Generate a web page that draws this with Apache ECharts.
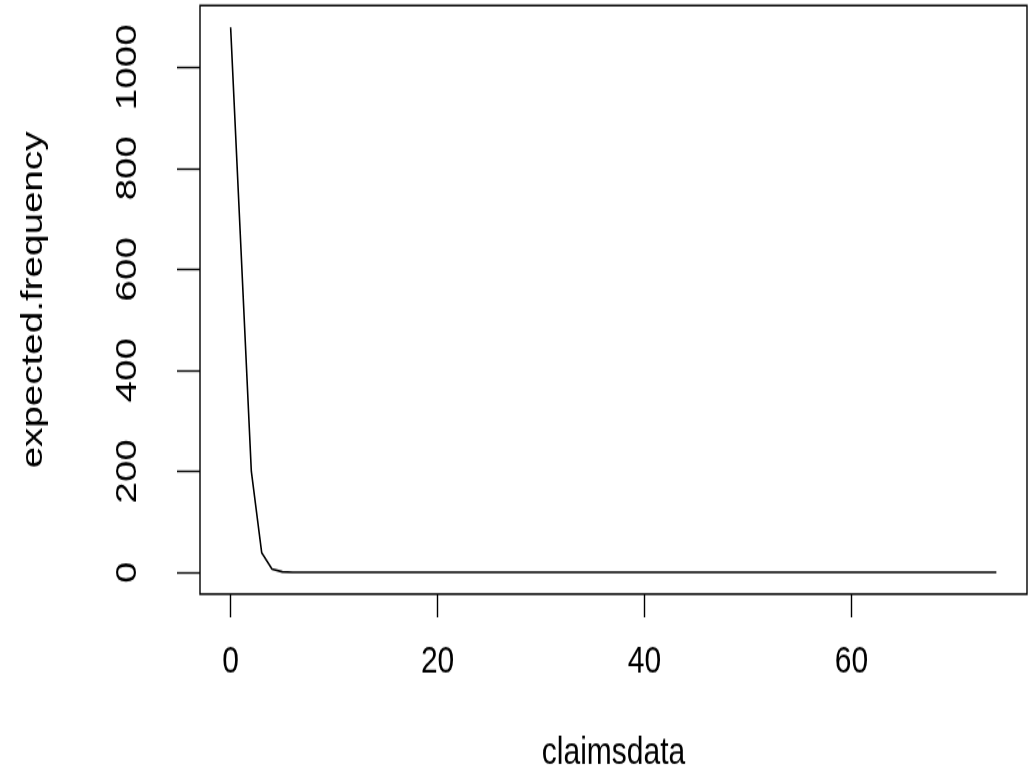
<!DOCTYPE html>
<html>
<head>
<meta charset="utf-8">
<script src="https://cdn.jsdelivr.net/npm/echarts@6/dist/echarts.min.js"></script>
<style>
  html, body { margin: 0; padding: 0; background: #fff; width: 1032px; height: 770px; overflow: hidden; }
  #wrap { width: 1032px; height: 770px; overflow: hidden; position: relative; }
  /* the reference plot is stretched vertically (non-square pixels), so the
     chart is drawn 606px tall and scaled up */
  #chart { position: absolute; left: 0; top: 0; width: 1032px; height: 606px;
           transform: scale(1, 1.286); transform-origin: 0 0; }
</style>
</head>
<body>
<div id="wrap"><div id="chart"></div></div>
<script>
// x values (number of claims) and the expected frequency
let claimsdata = [
  0, 1, 2, 3, 4, 5, 6, 7, 8, 9, 10, 11, 12, 13, 14, 15, 16, 17, 18, 19,
  20, 21, 22, 23, 24, 25, 26, 27, 28, 29, 30, 31, 32, 33, 34, 35, 36, 37, 38, 39,
  40, 41, 42, 43, 44, 45, 46, 47, 48, 49, 50, 51, 52, 53, 54, 55, 56, 57, 58, 59,
  60, 61, 62, 63, 64, 65, 66, 67, 68, 69, 70, 71, 72, 73, 74
];
let expected_frequency = [
  1079, 640, 200, 39, 6.5, 1, 0.15, 0.02, 0, 0, 0, 0, 0, 0, 0, 0, 0, 0, 0, 0,
  0, 0, 0, 0, 0, 0, 0, 0, 0, 0, 0, 0, 0, 0, 0, 0, 0, 0, 0, 0,
  0, 0, 0, 0, 0, 0, 0, 0, 0, 0, 0, 0, 0, 0, 0, 0, 0, 0, 0, 0,
  0, 0, 0, 0, 0, 0, 0, 0, 0, 0, 0, 0, 0, 0, 0
];
let x_ticks = [0, 20, 40, 60];
let y_ticks = [0, 200, 400, 600, 800, 1000];

let font_family = "Liberation Sans, Arial, sans-serif";
let font_size = 30;

let chart_dom = document.getElementById("chart");
let chart = echarts.init(chart_dom, null, { width: 1032, height: 606 });

let series_data = claimsdata.map(function (x, i) { return [x, expected_frequency[i]]; });

let option = {
  backgroundColor: "#ffffff",
  animation: false,
  grid: {
    left: 200,
    right: 5,
    top: 4.3,
    bottom: 140,
    show: true,
    borderColor: "#000",
    borderWidth: 1.4,
    backgroundColor: "transparent"
  },
  xAxis: {
    type: "value",
    min: -2.96,
    max: 76.96,
    name: "claimsdata",
    nameLocation: "middle",
    nameGap: 109,
    nameTextStyle: { color: "#000", fontSize: font_size, fontFamily: font_family },
    axisLine: { show: false, onZero: false },
    splitLine: { show: false },
    axisTick: {
      show: true, length: 18, customValues: x_ticks,
      lineStyle: { color: "#000", width: 1.4 }
    },
    axisLabel: {
      customValues: x_ticks, margin: 38,
      color: "#000", fontSize: font_size, fontFamily: font_family,
      formatter: function (v) { return String(v); }
    }
  },
  yAxis: {
    type: "value",
    min: -43.2,
    max: 1122.2,
    name: "expected.frequency",
    nameLocation: "middle",
    nameRotate: 90,
    nameGap: 151,
    nameTextStyle: { color: "#000", fontSize: font_size, fontFamily: font_family },
    axisLine: { show: false, onZero: false },
    splitLine: { show: false },
    axisTick: {
      show: true, length: 23, customValues: y_ticks,
      lineStyle: { color: "#000", width: 1.4 }
    },
    axisLabel: {
      customValues: y_ticks, margin: 57, rotate: 90,
      color: "#000", fontSize: font_size, fontFamily: font_family,
      formatter: function (v) { return String(v); }
    }
  },
  series: [{
    type: "line",
    data: series_data,
    showSymbol: false,
    symbol: "none",
    lineStyle: { color: "#000", width: 1.6 }
  }]
};

chart.setOption(option, true);
</script>
</body>
</html>
